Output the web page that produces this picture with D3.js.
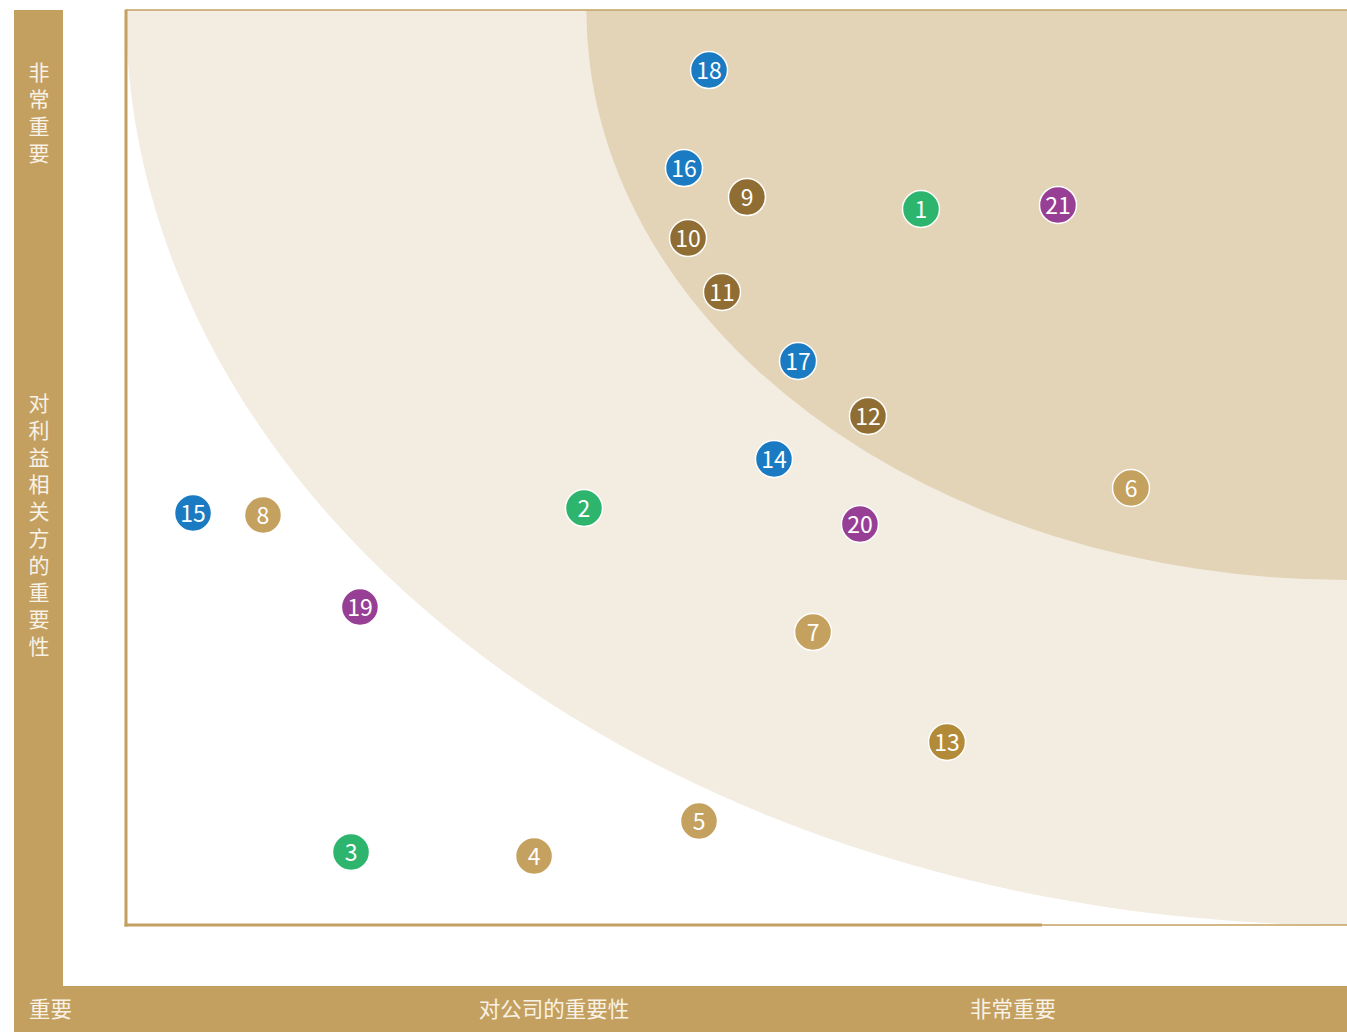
<!DOCTYPE html>
<html>
<head>
<meta charset="utf-8">
<script src="https://cdn.jsdelivr.net/npm/d3@7"></script>
<style>
  html, body { margin: 0; padding: 0; background: #fff; }
  svg { display: block; }
</style>
</head>
<body>
<div id="chart"></div>
<script>
// materiality matrix - issues plotted by importance to company (x) and stakeholders (y)

const ids = [18, 16, 9, 10, 11, 1, 21, 17, 12, 14, 6, 20, 2, 15, 8, 19, 7, 13, 5, 3, 4];
const companyImportance = [47.75, 45.70, 50.86, 46.03, 48.81, 65.11, 76.33, 55.04, 60.77, 53.07, 82.31, 60.11, 37.51, 5.49, 11.22, 19.16, 56.27, 67.24, 46.93, 18.43, 33.42];
const stakeholderImportance = [93.44, 82.73, 79.56, 75.08, 69.18, 78.25, 78.69, 61.64, 55.63, 50.93, 47.76, 43.83, 45.57, 45.03, 44.81, 34.75, 32.02, 20.00, 11.37, 7.98, 7.54];
const groups = ["blue", "blue", "brown", "brown", "brown", "green", "purple", "blue", "brown", "blue", "gold", "purple", "green", "blue", "gold", "purple", "gold", "ochre", "gold", "green", "gold"];

// zone radii (same units as the axes, centred on the top-right corner)
const zoneRadii = [100, 62.3];
const zoneColors = ["#f3ece0", "#e3d4b7"];

const yLabelTop = "非常重要";
const yLabelMain = "对利益相关方的重要性";
const xLabels = ["重要", "对公司的重要性", "非常重要"];

const groupColor = {
    blue: "#1a7bc2",
    green: "#2eb56d",
    purple: "#973f95",
    brown: "#8f6d33",
    gold: "#c5a160",
    ochre: "#b38b38"
};

const width = 1347, height = 1032;
const barColor = "#c4a060";
const textColor = "#f8f2e6";
const font = "'Noto Sans CJK SC', 'Noto Sans', sans-serif";

const plot = { left: 126, right: 1347, top: 10, bottom: 925 };

const x = d3.scaleLinear().domain([0, 100]).range([plot.left, plot.right]);
const y = d3.scaleLinear().domain([0, 100]).range([plot.bottom, plot.top]);

const svg = d3.select("#chart").append("svg")
    .attr("width", width)
    .attr("height", height);

svg.append("defs").append("clipPath")
    .attr("id", "plot-clip")
    .append("rect")
    .attr("x", plot.left)
    .attr("y", plot.top)
    .attr("width", plot.right - plot.left)
    .attr("height", plot.bottom - plot.top);

// zones
svg.append("g")
    .attr("clip-path", "url(#plot-clip)")
    .selectAll("ellipse")
    .data(zoneRadii)
    .enter()
    .append("ellipse")
    .attr("cx", x(100))
    .attr("cy", y(100))
    .attr("rx", d => x(d) - x(0))
    .attr("ry", d => y(0) - y(d))
    .attr("fill", (d, i) => zoneColors[i]);

// frame
const frame = svg.append("g").attr("stroke", barColor).attr("fill", "none");
frame.append("line")
    .attr("x1", plot.left).attr("x2", plot.right)
    .attr("y1", plot.top).attr("y2", plot.top)
    .attr("stroke-width", 1.5);
frame.append("line")
    .attr("x1", plot.left).attr("x2", plot.left)
    .attr("y1", plot.top - 0.5).attr("y2", plot.bottom + 1.5)
    .attr("stroke-width", 3);
frame.append("line")
    .attr("x1", plot.left - 1.5).attr("x2", 1042)
    .attr("y1", plot.bottom).attr("y2", plot.bottom)
    .attr("stroke-width", 3);
frame.append("line")
    .attr("x1", 1042).attr("x2", plot.right)
    .attr("y1", plot.bottom).attr("y2", plot.bottom)
    .attr("stroke-width", 1.5);

// side and bottom bars
svg.append("rect")
    .attr("x", 14).attr("y", 10)
    .attr("width", 49).attr("height", height - 10)
    .attr("fill", barColor);
svg.append("rect")
    .attr("x", 14).attr("y", 986)
    .attr("width", width - 14).attr("height", 46)
    .attr("fill", barColor);

// vertical labels, written top to bottom
svg.append("g")
    .selectAll("text")
    .data([{ t: yLabelTop, y: 62 }, { t: yLabelMain, y: 393 }])
    .enter()
    .append("text")
    .attr("x", 39)
    .attr("y", d => d.y)
    .style("writing-mode", "vertical-rl")
    .style("text-orientation", "upright")
    .style("letter-spacing", "6px")
    .style("font-family", font)
    .style("font-size", "21px")
    .style("fill", textColor)
    .text(d => d.t);

// bottom labels
const xLabelPos = [{ x: 29, anchor: "start" }, { x: 554, anchor: "middle" }, { x: 1056, anchor: "end" }];
svg.append("g")
    .selectAll("text")
    .data(xLabels)
    .enter()
    .append("text")
    .attr("x", (d, i) => xLabelPos[i].x)
    .attr("y", 1007)
    .attr("text-anchor", (d, i) => xLabelPos[i].anchor)
    .attr("dominant-baseline", "central")
    .style("font-family", font)
    .style("font-size", "21.5px")
    .style("fill", textColor)
    .text(d => d);

// points
const data = ids.map((id, i) => ({
    id: id,
    cx: companyImportance[i],
    cy: stakeholderImportance[i],
    group: groups[i]
}));

const nodes = svg.append("g")
    .selectAll("g")
    .data(data)
    .enter()
    .append("g")
    .attr("transform", d => `translate(${x(d.cx)}, ${y(d.cy)})`);

nodes.append("circle")
    .attr("r", 18.5)
    .attr("fill", d => groupColor[d.group])
    .attr("stroke", "#fff")
    .attr("stroke-width", 1.5);

nodes.append("text")
    .attr("text-anchor", "middle")
    .attr("dominant-baseline", "central")
    .attr("y", -1)
    .style("font-family", font)
    .style("font-size", "23px")
    .style("font-weight", 400)
    .style("fill", "#fff")
    .text(d => d.id);
</script>
</body>
</html>
